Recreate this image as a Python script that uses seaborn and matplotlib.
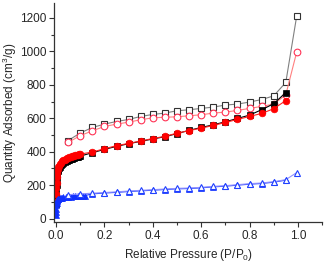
import numpy as np
import pandas as pd
import matplotlib
matplotlib.use('Agg')
import matplotlib.pyplot as plt
from matplotlib.ticker import MultipleLocator
import seaborn as sns

# adsorption branches (filled markers)
p_ads = [0.0005, 0.001, 0.0015, 0.002, 0.003, 0.004, 0.005, 0.007, 0.009, 0.012,
         0.015, 0.02, 0.025, 0.03, 0.035, 0.04, 0.045, 0.05, 0.055, 0.06,
         0.065, 0.07, 0.075, 0.08, 0.085, 0.09, 0.095, 0.1, 0.15, 0.2,
         0.25, 0.3, 0.35, 0.4, 0.45, 0.5, 0.55, 0.6, 0.65, 0.7,
         0.75, 0.8, 0.85, 0.9, 0.95]
black_ads = [90, 130, 170, 200, 235, 255, 268, 282, 292, 302,
             310, 320, 327, 333, 338, 342, 346, 350, 353, 356,
             359, 361, 364, 366, 368, 370, 372, 374, 394, 414,
             432, 448, 462, 476, 490, 508, 528, 545, 561, 579,
             599, 619, 651, 687, 754]
red_ads = [100, 145, 185, 215, 250, 270, 283, 297, 307, 317,
           325, 335, 342, 348, 353, 357, 361, 364, 367, 370,
           373, 375, 377, 379, 381, 383, 385, 386, 398, 418,
           436, 450, 464, 479, 492, 511, 526, 541, 557, 575,
           593, 611, 629, 657, 706]

p_blue_ads = [0.0003, 0.0006, 0.001, 0.0015, 0.002, 0.003, 0.004, 0.005, 0.007, 0.01,
              0.015, 0.02, 0.025, 0.03, 0.04, 0.05, 0.06, 0.07, 0.08, 0.09,
              0.1, 0.11, 0.12, 0.15, 0.2, 0.25, 0.3, 0.35, 0.4, 0.45,
              0.5, 0.55, 0.6, 0.65, 0.7, 0.75, 0.8, 0.85, 0.9, 0.95]
blue_ads = [20, 40, 60, 80, 95, 105, 110, 113, 116, 119,
            122, 124, 126, 127, 129, 131, 132, 133, 134, 135,
            136, 137, 138, 148, 153, 157, 162, 166, 170, 174,
            178, 180, 184, 190, 194, 200, 206, 210, 218, 230]

# desorption branches (open markers)
p_des = [0.05, 0.1, 0.15, 0.2, 0.25, 0.3, 0.35, 0.4, 0.45, 0.5,
         0.55, 0.6, 0.65, 0.7, 0.75, 0.8, 0.85, 0.9, 0.95, 0.995]
black_des = [467, 512, 545, 565, 581, 593, 611, 623, 631, 645,
             651, 659, 667, 679, 685, 697, 712, 734, 814, 1210]
red_des = [456, 496, 525, 551, 565, 577, 591, 603, 606, 609,
           615, 621, 631, 637, 647, 659, 671, 685, 740, 995]
blue_des = [143, 148, 152, 156, 160, 165, 169, 173, 177, 181,
            183, 187, 193, 197, 203, 209, 213, 221, 233, 275]

sns.set_style('ticks')
plt.rcParams['font.family'] = ['Liberation Sans', 'DejaVu Sans']
plt.rcParams['mathtext.fontset'] = 'custom'
plt.rcParams['mathtext.rm'] = 'Liberation Sans'

fig = plt.figure(figsize=(3.24, 2.63), dpi=100)
ax = fig.add_axes([0.167, 0.156, 0.827, 0.833])

ms = 4.3
sns.lineplot(x=p_des, y=black_des, ax=ax, sort=False, color='#808080', lw=0.8,
             marker='s', ms=ms, mfc='white', mec='#333333', mew=0.8)
sns.lineplot(x=p_des, y=red_des, ax=ax, sort=False, color='#ff8080', lw=0.8,
             marker='o', ms=ms + 0.5, mfc='white', mec='#ff3355', mew=0.8)
sns.lineplot(x=p_ads, y=black_ads, ax=ax, sort=False, color='black', lw=0.8,
             marker='s', ms=ms, mfc='black', mec='black', mew=0.5)
sns.lineplot(x=p_ads, y=red_ads, ax=ax, sort=False, color='#ff2020', lw=0.8,
             marker='o', ms=ms + 0.5, mfc='#ff0000', mec='#ff0000', mew=0.5)
sns.lineplot(x=p_blue_ads, y=blue_ads, ax=ax, sort=False, color='#2040ff', lw=0.8,
             marker='^', ms=ms, mfc='#1030ff', mec='#1030ff', mew=0.5)
sns.lineplot(x=p_des, y=blue_des, ax=ax, sort=False, color='#9090ff', lw=0.8,
             marker='^', ms=ms + 0.5, mfc='white', mec='#2040ff', mew=0.8)

ax.set_xlim(-0.008, 1.1)
ax.set_ylim(-20, 1290)
ax.xaxis.set_major_locator(MultipleLocator(0.2))
ax.xaxis.set_minor_locator(MultipleLocator(0.1))
ax.yaxis.set_major_locator(MultipleLocator(200))
ax.yaxis.set_minor_locator(MultipleLocator(100))
ax.xaxis.set_major_formatter(plt.FuncFormatter(lambda v, _: f'{v:.1f}'))
ax.tick_params(which='major', length=3.5, width=0.8, labelsize=8.5, pad=2, color='#333333')
ax.tick_params(which='minor', length=2, width=0.8, color='#333333')
sns.despine(ax=ax)
for s in ['left', 'bottom']:
    ax.spines[s].set_linewidth(0.9)
    ax.spines[s].set_color('#333333')

ax.set_xlabel('Relative Pressure (P/P$_0$)', fontsize=8.5, labelpad=4)
ax.set_ylabel('Quantity Adsorbed (cm$^3$/g)', fontsize=8.5, labelpad=1)

fig.savefig('out.png', dpi=100)
